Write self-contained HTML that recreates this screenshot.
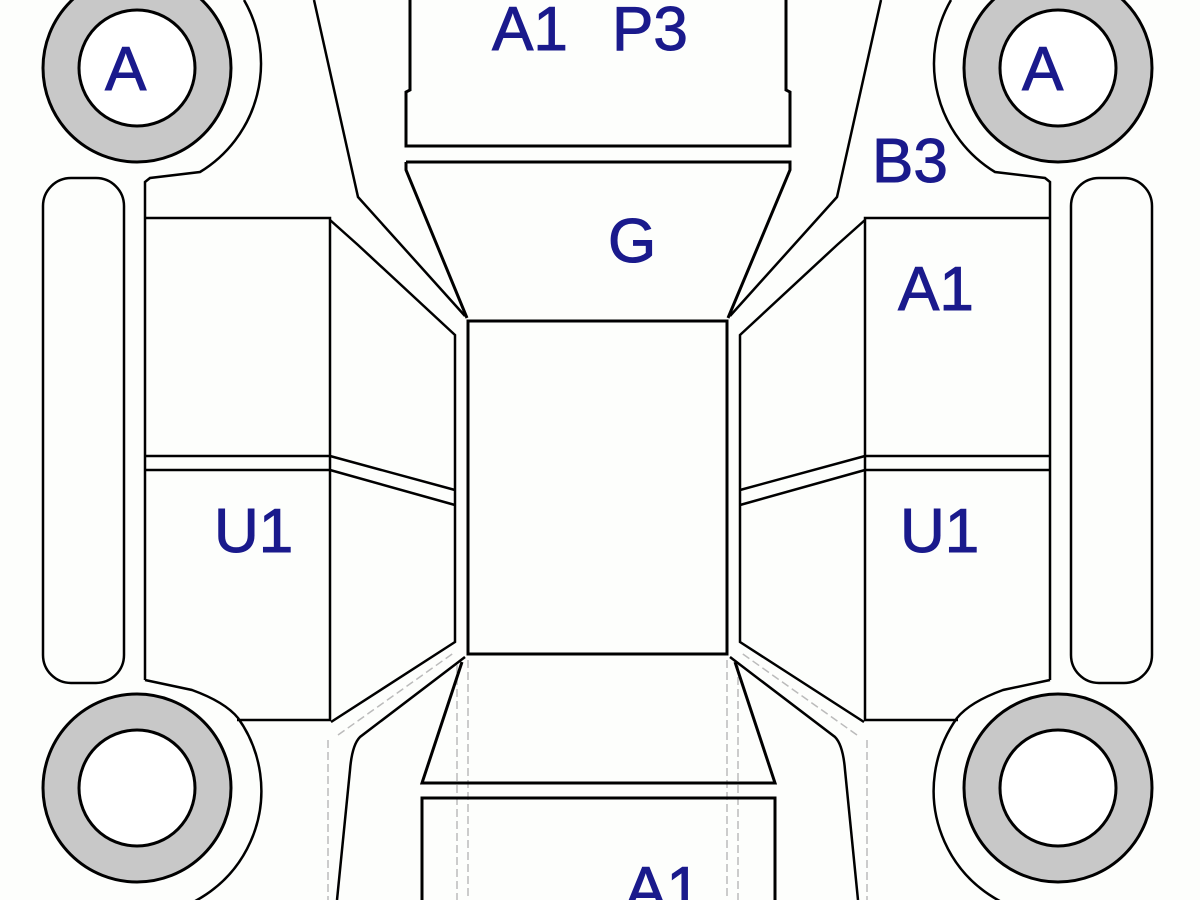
<!DOCTYPE html>
<html><head><meta charset="utf-8"><style>
html,body{margin:0;padding:0;background:#fff;}
svg{display:block;}
text{font-family:"Liberation Sans",Arial,sans-serif;fill:#1a1a8c;stroke:#1a1a8c;stroke-width:1;font-size:62px;}
</style></head><body>
<svg width="1200" height="900" viewBox="0 0 1200 900" xmlns="http://www.w3.org/2000/svg">
<rect width="1200" height="900" fill="#fdfefc"/>
<defs>
<g id="half" fill="none" stroke="#000" stroke-width="2.5">
  <circle cx="137" cy="68" r="94" fill="#c8c8c8" stroke-width="3"/>
  <circle cx="137" cy="68" r="58" fill="#fff" stroke-width="3"/>
  <path d="M244,0 A127,127 0 0 1 200,172 L150,178 L145,182 L145,218"/>
  <circle cx="137" cy="788" r="94" fill="#c8c8c8" stroke-width="3"/>
  <circle cx="137" cy="788" r="58" fill="#fff" stroke-width="3"/>
  <path d="M145,680 L192,690 Q225,702 238,718 A125,125 0 0 1 150,915"/>
  <rect x="43" y="178" width="81" height="505" rx="28" ry="28"/>
  <path d="M145,218 L330,218 L330,720 L237,720"/>
  <path d="M145,218 L145,680"/>
  <path d="M145,456 L330,456 M145,470 L330,470"/>
  <path d="M330,220 L358,245 L455,335 L455,642 L331,722"/>
  <path d="M330,456 L455,490 M330,470 L455,505"/>
  <path d="M314,0 L358,197 L465,316"/>
  <path d="M465,657 L360,737 Q352,745 350,770 L337,900"/>
  <path d="M328,740 L328,900 M457,665 L457,900 M468,660 L468,900" stroke="#bbb" stroke-width="1.5" stroke-dasharray="8,4"/>
  <path d="M338,735 L455,652" stroke="#bbb" stroke-width="1.5" stroke-dasharray="8,4"/>
</g>
</defs>
<use href="#half"/>
<use href="#half" transform="matrix(-1 0 0 1 1195 0)"/>
<g fill="none" stroke="#000" stroke-width="3">
  <path d="M410,0 L410,90 L406,92 L406,146 L790,146 L790,92 L786,90 L786,0"/>
  <path d="M406,162 L790,162 L790,170 L728,318 M406,162 L406,170 L467,318"/>
  <rect x="468" y="321" width="259" height="333"/>
  <path d="M462,662 L422,783 L775,783 L735,662"/>
  <path d="M422,900 L422,798 L775,798 L775,900"/>
</g>
<text x="492" y="50">A1</text>
<text x="612" y="50">P3</text>
<text x="105" y="90">A</text>
<text x="1022" y="90">A</text>
<text x="872" y="182">B3</text>
<text x="608" y="262">G</text>
<text x="898" y="310">A1</text>
<text x="214" y="552">U1</text>
<text x="900" y="552">U1</text>
<text x="625" y="910">A1</text>
</svg>
</body></html>
